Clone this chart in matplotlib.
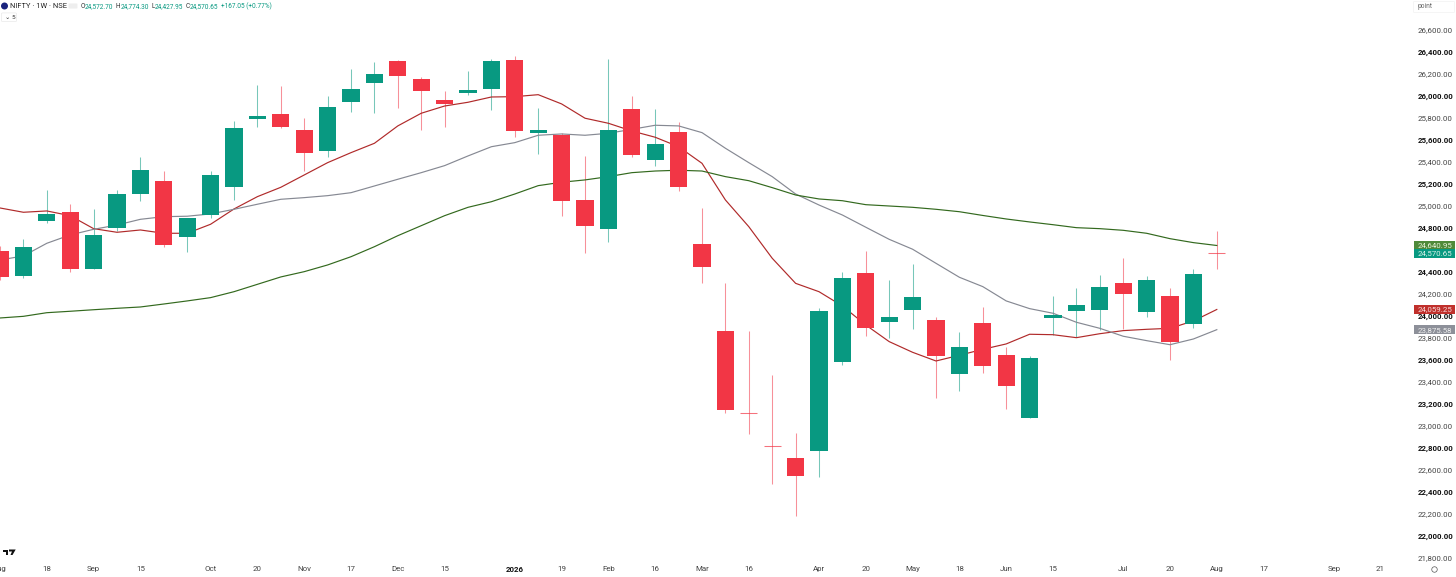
import matplotlib
matplotlib.use("Agg")
import matplotlib.pyplot as plt
from matplotlib.patches import Rectangle, Ellipse, Polygon, FancyBboxPatch

plt.rcParams["font.family"] = ["Roboto", "DejaVu Sans"]

# weekly candles, first one is cut by the left edge
opens = [24591, 24367, 24864, 24943, 24428, 24800, 25109, 25230, 24721, 24916, 25173, 25788, 25837, 25691,
         25497, 25943, 26118, 26318, 26152, 25961, 26030, 26061, 26328, 25667, 25648, 25055, 24791, 25882,
         25421, 25673, 24655, 23864, 23120, 22822, 22709, 22776, 23585, 24388, 23943, 24057, 23967, 23476,
         23934, 23648, 23076, 23982, 24048, 24057, 24300, 24037, 24185, 23925, 24572.70]
highs = [24640, 24697, 25146, 25018, 24976, 25146, 25443, 25321, 24895, 25321, 25776, 26100, 26091, 25797,
         26000, 26243, 26307, 26325, 26170, 26048, 26228, 26334, 26364, 25894, 25661, 25455, 26334, 26003,
         25879, 25764, 24979, 24300, 23861, 23464, 22937, 24070, 24397, 24594, 24327, 24473, 23994, 23858,
         24085, 23721, 23637, 24182, 24252, 24373, 24530, 24364, 24257, 24425, 24774.30]
lows = [24330, 24348, 24848, 24403, 24425, 24776, 25048, 24630, 24585, 24888, 25055, 25716, 25710, 25321,
        25443, 25858, 25843, 25888, 25691, 25721, 26009, 25873, 25625, 25470, 24912, 24570, 24676, 25443,
        25367, 25137, 24303, 23116, 22927, 22473, 22185, 22534, 23555, 23818, 23797, 23882, 23252, 23316,
        23485, 23152, 23076, 23827, 23807, 23873, 23879, 23994, 23600, 23894, 24427.95]
closes = [24357, 24625, 24930, 24425, 24734, 25107, 25325, 24648, 24888, 25279, 25707, 25818, 25716, 25485,
          25903, 26061, 26198, 26185, 26043, 25925, 26052, 26318, 25682, 25688, 25048, 24821, 25688, 25467,
          25564, 25173, 24448, 23146, 23115, 22818, 22546, 24046, 24348, 23894, 23994, 24173, 23639, 23718,
          23546, 23364, 23618, 24009, 24103, 24264, 24203, 24327, 23764, 24382, 24570.65]

ma_red = [24982, 24943, 24955, 24912, 24794, 24761, 24782, 24752, 24752, 24834, 24973, 25085, 25170, 25282,
          25394, 25485, 25570, 25728, 25843, 25909, 25943, 25991, 25994, 26012, 25928, 25798, 25752, 25682,
          25625, 25539, 25388, 25055, 24812, 24525, 24297, 24221, 24091, 23918, 23767, 23670, 23591, 23643,
          23697, 23746, 23834, 23830, 23803, 23839, 23867, 23879, 23888, 23955, 24059.25]
ma_grey = [24509, 24546, 24661, 24737, 24788, 24827, 24879, 24903, 24907, 24928, 24970, 25016, 25061, 25076,
           25094, 25121, 25182, 25243, 25303, 25367, 25455, 25539, 25576, 25643, 25655, 25643, 25661, 25697,
           25734, 25728, 25667, 25525, 25394, 25267, 25109, 25009, 24918, 24807, 24697, 24607, 24479, 24352,
           24267, 24137, 24067, 24025, 23943, 23888, 23816, 23776, 23739, 23791, 23875.58]
ma_green = [23982, 23997, 24030, 24043, 24057, 24070, 24082, 24109, 24137, 24167, 24221, 24288, 24355, 24403,
            24464, 24539, 24630, 24730, 24821, 24912, 24988, 25039, 25109, 25185, 25216, 25237, 25267, 25303,
            25318, 25325, 25318, 25267, 25230, 25167, 25100, 25064, 25048, 25012, 25000, 24988, 24970, 24948,
            24914, 24882, 24855, 24830, 24803, 24794, 24779, 24752, 24703, 24667, 24640.95]

price_ticks = list(range(21800, 26800, 200))
bold_ticks = list(range(22000, 26800, 400))
date_pos = [-1, 1, 3, 5, 8, 10, 12, 14, 16, 18, 21, 23, 25, 27, 29, 31, 34, 36, 38, 40, 42, 44, 47, 49, 51, 53, 56, 58]
date_labels = ["Aug", "18", "Sep", "15", "Oct", "20", "Nov", "17", "Dec", "15", "2026", "19", "Feb", "16", "Mar",
               "16", "Apr", "20", "May", "18", "Jun", "15", "Jul", "20", "Aug", "17", "Sep", "21"]

GREEN = "#089981"
RED = "#f23645"
W, H = 1456, 577
PLOT_W, PLOT_H = 1415, 560

fig = plt.figure(figsize=(W / 100, H / 100), dpi=100, facecolor="white")
ax = fig.add_axes([0, 1 - PLOT_H / H, PLOT_W / W, PLOT_H / H])
ax.set_xlim(-0.926, 59.47)
ax.set_ylim(26872.7 - PLOT_H / 0.11, 26872.7)
for s in ax.spines.values():
    s.set_visible(False)

xs = list(range(-1, 52))
for x, o, h, l, c in zip(xs, opens, highs, lows, closes):
    col = GREEN if c >= o else RED
    ax.plot([x, x], [l, h], color=col, lw=0.75, alpha=0.55, solid_capstyle="butt", zorder=3)
    if abs(c - o) < 15:
        ax.plot([x - 0.37, x + 0.37], [c, c], color=col, lw=0.75, alpha=0.7, solid_capstyle="butt", zorder=5)
    else:
        ax.add_patch(Rectangle((x - 0.37, min(o, c)), 0.74, abs(c - o), facecolor=col, edgecolor="none", zorder=5))

ax.plot(xs, ma_red, color="#b02a2a", lw=0.85, zorder=4)
ax.plot(xs, ma_grey, color="#868993", lw=0.85, zorder=4)
ax.plot(xs, ma_green, color="#33691e", lw=0.85, zorder=4)

ax.yaxis.tick_right()
ax.set_yticks(price_ticks)
ax.set_yticklabels([f"{p:,.2f}" for p in price_ticks], fontsize=5.7, color="#444444")
for lab, p in zip(ax.get_yticklabels(), price_ticks):
    if p in bold_ticks:
        lab.set_fontweight("bold")
        lab.set_color("#111111")
ax.set_xticks(date_pos)
ax.set_xticklabels(date_labels, fontsize=5.7, color="#444444")
ax.get_xticklabels()[10].set_fontweight("bold")
ax.get_xticklabels()[10].set_color("#111111")
ax.tick_params(axis="x", length=0, pad=4.5)
ax.tick_params(axis="y", length=0, pad=2.2)


def px(x, y):
    return x / W, 1 - y / H


# last value tags on the price scale
tags = [(24640.95, "#4f8a3a", "#e8f0d8"), (24570.65, "#089981", "#d8f0e8"),
        (24059.25, "#c0302c", "#f8d8d8"), (23875.58, "#8d9099", "#eeeeee")]
for price, bg, fg in tags:
    yp = (26872.7 - price) * 0.11
    fig.patches.append(Rectangle(px(1413.5, yp + 4.7), 41 / W, 9.4 / H, transform=fig.transFigure,
                                 facecolor=bg, edgecolor="none", zorder=10))
    fig.text(1452.5 / W, 1 - yp / H, f"{price:,.2f}", fontsize=5.7, color=fg, ha="right", va="center", zorder=11)

# header
fig.patches.append(Ellipse(px(4.5, 6), 7 / W, 7 / H, transform=fig.transFigure, facecolor="#1a237e", edgecolor="none"))
fig.text(10.5 / W, 1 - 6.3 / H, "NIFTY · 1W · NSE", fontsize=5.4, color="#222222", va="center")
fig.patches.append(FancyBboxPatch(px(70, 8), 6 / W, 4 / H, boxstyle="round,pad=0.001", transform=fig.transFigure,
                                  facecolor="#eeeeee", edgecolor="none"))
parts = [(80.5, "O", "#333333"), (85, "24,572.70", GREEN), (116, "H", "#333333"), (120.5, "24,774.30", GREEN),
         (151, "L", "#333333"), (155, "24,427.95", GREEN), (185.5, "C", "#333333"), (190, "24,570.65", GREEN),
         (221, "+167.05 (+0.77%)", GREEN)]
for xp, txt, col in parts:
    fig.text(xp / W, 1 - 6.3 / H, txt, fontsize=4.7, color=col, va="center")
fig.patches.append(FancyBboxPatch(px(3, 21), 12 / W, 7.5 / H, boxstyle="round,pad=0.001", transform=fig.transFigure,
                                  facecolor="white", edgecolor="#e4e4e4", lw=0.4))
fig.text(5 / W, 1 - 17.5 / H, "⌄ 5", fontsize=4.6, color="#333333", va="center")
fig.patches.append(FancyBboxPatch(px(1415, 12), 38 / W, 10 / H, boxstyle="round,pad=0.001", transform=fig.transFigure,
                                  facecolor="white", edgecolor="#eeeeee", lw=0.4))
fig.text(1418 / W, 1 - 6.5 / H, "point", fontsize=4.8, color="#666666", va="center")

# logo and clock corner
fig.patches.append(Polygon([px(3, 549.5), px(8, 549.5), px(8, 555), px(6, 555), px(6, 551.5), px(3, 551.5)],
                           transform=fig.transFigure, facecolor="#111111", edgecolor="none"))
fig.patches.append(Polygon([px(9, 549.5), px(15.7, 549.5), px(12.5, 555), px(10.5, 555), px(12, 551.5), px(9, 551.5)],
                           transform=fig.transFigure, facecolor="#111111", edgecolor="none"))
fig.patches.append(Ellipse(px(1434.5, 569.5), 5.5 / W, 5.5 / H, transform=fig.transFigure, facecolor="none",
                           edgecolor="#555555", lw=0.5))

fig.savefig("out.png", dpi=100)
